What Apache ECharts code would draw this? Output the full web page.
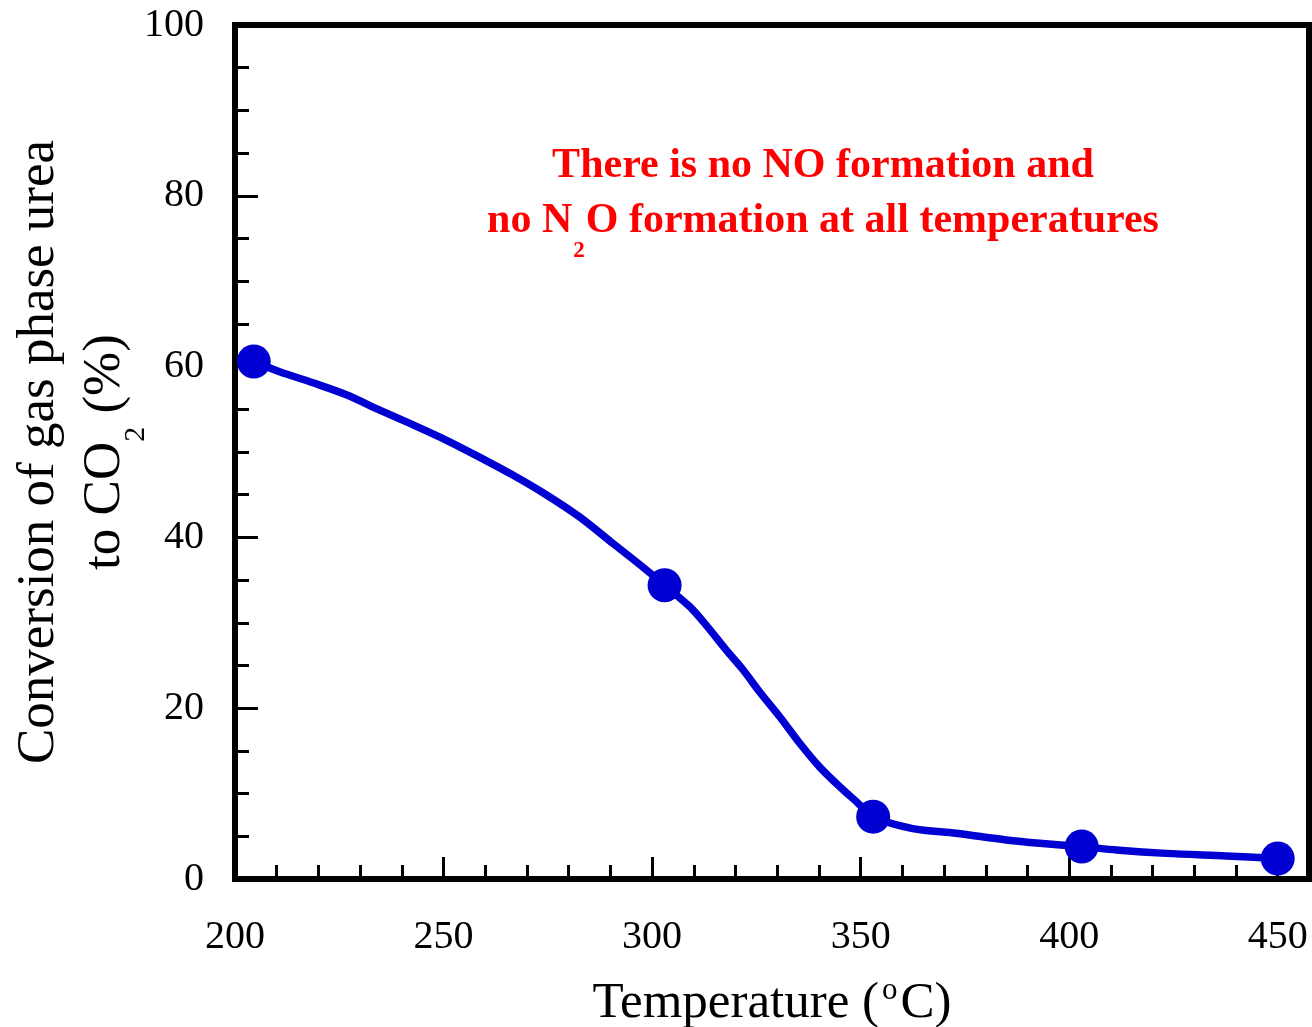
<!DOCTYPE html>
<html>
<head>
<meta charset="utf-8">
<title>Conversion of gas phase urea to CO2</title>
<script src="https://cdn.jsdelivr.net/npm/echarts@6/dist/echarts.min.js"></script>
<style>
  html, body { margin: 0; padding: 0; background: #ffffff; }
  #chart { width: 1312px; height: 1027px; }
</style>
</head>
<body>
<div id="chart"></div>
<script>
// Measured points (temperature in °C, conversion in %)
const temperatureC = [204.5, 303, 353, 403, 450];
const conversionPct = [60.6, 34.4, 7.3, 3.8, 2.4];

// Fitted trend curve through the measurements
const fitTemperatureC = [204.5, 210.7, 218.7, 226.7, 234.7, 242.6, 250.6, 258.6, 266.6, 274.6,
  282.6, 290.6, 298.6, 303.0, 309.0, 313.0, 317.8, 321.8, 325.8, 330.6, 335.4, 340.2, 345.0,
  349.0, 353.0, 362.5, 372.9, 384.9, 392.9, 403.0, 411.3, 423.3, 437.7, 450.0];
const fitConversionPct = [60.6, 59.4, 58.1, 56.7, 54.9, 53.2, 51.4, 49.4, 47.3, 45.0,
  42.4, 39.3, 36.2, 34.4, 31.9, 29.7, 26.8, 24.5, 21.9, 19.0, 15.9, 13.1, 10.8,
  9.05, 7.3, 5.9, 5.35, 4.57, 4.18, 3.8, 3.4, 3.0, 2.7, 2.4];

// Axis ranges and tick steps
const xRange = [200, 457.5];
const xMajorStep = 50;
const xMinorStep = 10;
const yRange = [0, 100];
const yMajorStep = 20;

const SERIF = "'Liberation Serif', 'Times New Roman', serif";
const BLUE = '#0000d2';

const chart = echarts.init(document.getElementById('chart'), null, { renderer: 'canvas' });

const pairs = (xs, ys) => xs.map((x, i) => [x, ys[i]]);

const option = {
  animation: false,
  backgroundColor: '#ffffff',
  grid: {
    left: 235, right: 3, top: 25, bottom: 148,
    containLabel: false,
    outerBoundsMode: 'none',
    show: true, borderColor: '#000000', borderWidth: 6, backgroundColor: 'transparent'
  },
  xAxis: [
    {
      // minor ticks every 10 °C
      type: 'value', gridIndex: 0, position: 'bottom',
      min: xRange[0], max: xRange[1], interval: xMinorStep,
      axisLine: { show: false },
      axisTick: { show: true, inside: true, length: 14, lineStyle: { color: '#000', width: 3 } },
      axisLabel: { show: false },
      splitLine: { show: false }
    },
    {
      // major ticks, labels and title
      type: 'value', gridIndex: 0, position: 'bottom',
      min: xRange[0], max: xRange[1], interval: xMajorStep,
      axisLine: { show: false },
      axisTick: { show: true, inside: true, length: 22, lineStyle: { color: '#000', width: 3 } },
      axisLabel: {
        show: true, margin: 38, color: '#000', fontFamily: SERIF, fontSize: 40,
        formatter: v => (v % xMajorStep === 0 ? String(v) : '')
      },
      splitLine: { show: false },
      name: 'Temperature ({sup|o}C)',
      nameLocation: 'middle',
      nameGap: 99,
      nameMoveOverlap: false,
      nameTextStyle: {
        color: '#000', fontFamily: SERIF, fontSize: 51, lineHeight: 51,
        rich: {
          sup: { color: '#000', fontFamily: SERIF, fontSize: 31, padding: [0, 3, 26, 3] }
        }
      }
    }
  ],
  yAxis: {
    type: 'value', min: yRange[0], max: yRange[1], interval: yMajorStep,
    axisLine: { show: false },
    axisTick: { show: true, inside: true, length: 23, lineStyle: { color: '#000', width: 3 } },
    minorTick: { show: true, splitNumber: 4, length: 14, lineStyle: { color: '#000', width: 3 } },
    axisLabel: { show: true, margin: 31, color: '#000', fontFamily: SERIF, fontSize: 40 },
    splitLine: { show: false },
    minorSplitLine: { show: false },
    name: 'Conversion of gas phase urea\nto CO{sub|2} (%)',
    nameLocation: 'middle',
    nameRotate: 90,
    nameGap: 97,
    nameMoveOverlap: false,
    nameTextStyle: {
      color: '#000', fontFamily: SERIF, fontSize: 53, lineHeight: 66, align: 'center',
      rich: {
        sub: { color: '#000', fontFamily: SERIF, fontSize: 30, padding: [62, 0, 0, 0] }
      }
    }
  },
  series: [
    {
      name: 'Fit',
      type: 'line',
      xAxisIndex: 0,
      data: pairs(fitTemperatureC, fitConversionPct),
      smooth: 0.3,
      showSymbol: false,
      symbol: 'none',
      lineStyle: { color: BLUE, width: 7.5, cap: 'round', join: 'round', opacity: 1 },
      z: 2
    },
    {
      name: 'Measured',
      type: 'scatter',
      xAxisIndex: 0,
      data: pairs(temperatureC, conversionPct),
      symbol: 'circle',
      symbolSize: 34,
      itemStyle: { color: BLUE, opacity: 1 },
      z: 3
    }
  ],
  graphic: [
    {
      type: 'text',
      x: 823, y: 139,
      style: {
        text: 'There is no NO formation and\nno N{s|2}O formation at all temperatures',
        align: 'center',
        verticalAlign: 'top',
        fill: '#ff0000',
        fontFamily: SERIF,
        fontWeight: 'bold',
        fontSize: 42,
        lineHeight: 55,
        rich: {
          s: { fill: '#ff0000', fontFamily: SERIF, fontWeight: 'bold', fontSize: 23, padding: [60, 1, 0, 1] }
        }
      },
      z: 10
    }
  ]
};

chart.setOption(option);
</script>
</body>
</html>
